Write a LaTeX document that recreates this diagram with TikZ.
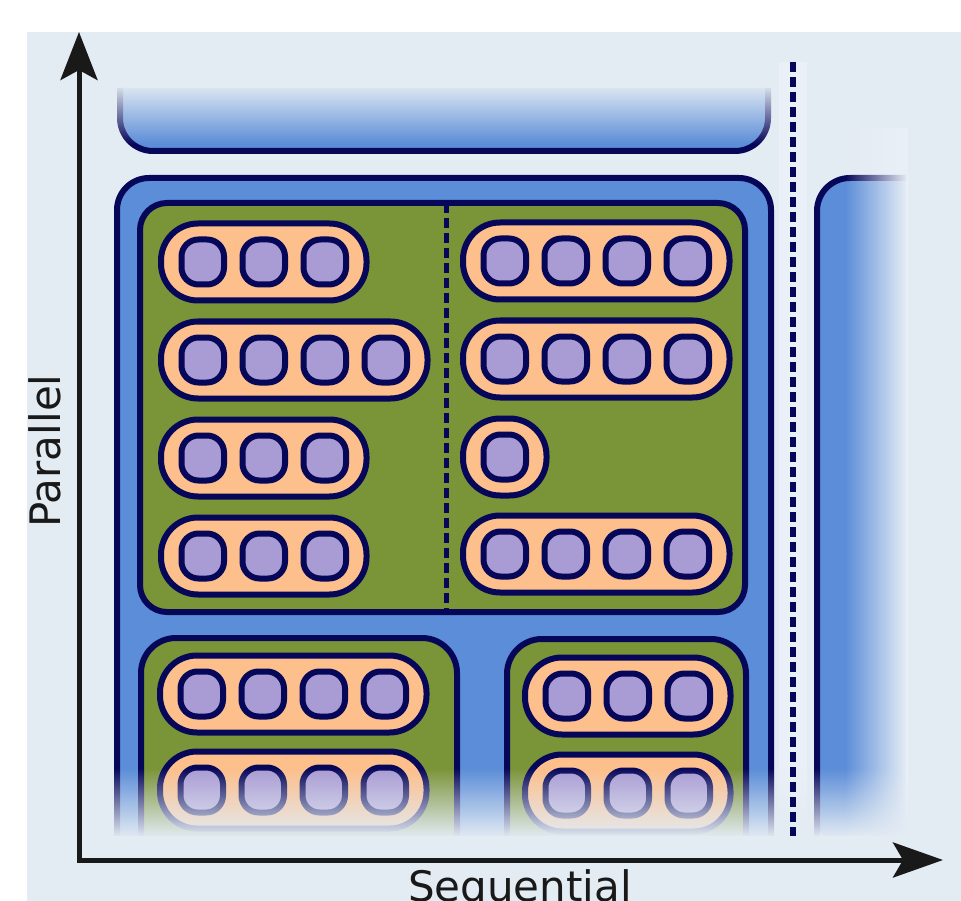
\documentclass[tikz,border=0pt]{standalone}
\usepackage{fontspec}
\newfontfamily\labelfont{DejaVu Sans}
\usetikzlibrary{arrows.meta,fadings}
\definecolor{bgc}{HTML}{E3EBF3}
\definecolor{bglight}{HTML}{EAF0F7}
\definecolor{glowc}{HTML}{EAF0F7}
\definecolor{bluec}{HTML}{5B8DD8}
\definecolor{navy}{HTML}{07075A}
\definecolor{greenc}{HTML}{7A9438}
\definecolor{peach}{HTML}{FDBF8B}
\definecolor{lav}{HTML}{A99BD3}
\tikzfading[name=fadetobottom, top color=transparent!100, bottom color=transparent!0]
\tikzfading[name=fadetotop, top color=transparent!0, bottom color=transparent!100]
\tikzfading[name=fadetoright, left color=transparent!100, right color=transparent!0]
\newcommand\pillrow[3]{%
  \pgfmathsetmacro\pillR{#1+41+48.5+61*(#3-1)-3}%
  \draw[pillbox] (#1+3,#2-38.5) rectangle (\pillR,#2+38.5);
  \foreach \k in {1,...,#3}{%
    \pgfmathsetmacro\cellX{#1+20.5+24.25+61*(\k-1)}%
    \draw[cellbox] (\cellX-21.25,#2-22.5) rectangle (\cellX+21.25,#2+22.5);
  }%
}
\begin{document}
\begin{tikzpicture}[x=1pt,y=-1pt,
  bigbox/.style={draw=navy, line width=6pt},
  pillbox/.style={draw=navy, fill=peach, line width=6pt, rounded corners=37pt},
  cellbox/.style={draw=navy, fill=lav, line width=6pt, rounded corners=17pt},
  dashline/.style={draw=navy, line width=5.5pt, dash pattern=on 10pt off 5pt},
  axisline/.style={draw=black!90, line width=5pt, line join=miter},
  labelstyle/.style={font=\labelfont\fontsize{42}{50}\selectfont, text=black!90, inner sep=0pt}]
\useasboundingbox (0,0) rectangle (961,901);
\fill[white] (0,0) rectangle (961,901);
\begin{scope}
\clip (27,32) rectangle (961,901);
\fill[bgc] (27,32) rectangle (961,901);
% glow strip behind the separator
\fill[glowc] (779,62) rectangle (807,840);
% top bar
\filldraw[bigbox, fill=bluec, rounded corners=33pt] (120,88) -- (120,151) -- (768,151) -- (768,88);
\fill[bgc, path fading=fadetotop] (108,84) rectangle (780,144);
% main blue box
\filldraw[bigbox, fill=bluec, rounded corners=32pt] (117,850) -- (117,178) -- (771,178) -- (771,850);
% right box
\fill[bluec, rounded corners=33pt] (817,178) rectangle (880,850);
\fill[bluec] (850,178) rectangle (906,850);
\draw[bigbox, rounded corners=33pt] (906,178) -- (817,178) -- (817,850);
% upper green box
\filldraw[bigbox, fill=greenc, rounded corners=27pt] (140,203) rectangle (745,612);
\draw[dashline, line width=5pt] (446,203) -- (446,612);
% lower green boxes
\filldraw[bigbox, fill=greenc, rounded corners=35pt] (141,850) -- (141,638) -- (457,638) -- (457,850);
\filldraw[bigbox, fill=greenc, rounded corners=35pt] (507,850) -- (507,639) -- (746,639) -- (746,850);
% pills, upper left
\pillrow{158}{262}{3}
\pillrow{158}{360}{4}
\pillrow{158}{458}{3}
\pillrow{158}{556}{3}
% pills, upper right
\pillrow{460}{261}{4}
\pillrow{460}{359}{4}
\pillrow{460}{457}{1}
\pillrow{460}{554}{4}
% pills, lower
\pillrow{157}{694}{4}
\pillrow{157}{790}{4}
\pillrow{522}{696}{3}
\pillrow{522}{793}{3}
% fades
\fill[bglight, path fading=fadetoright] (845,128) rectangle (908,838);
\fill[bgc, path fading=fadetobottom] (100,768) rectangle (912,837);
\fill[bgc] (100,836) rectangle (912,853);
% separator
\draw[dashline] (793,62) -- (793,836);
% axes
\coordinate (origin) at (79,860);
\coordinate (ytip) at (79,32);
\coordinate (xtip) at (943,860);
\draw[axisline, {Stealth[length=48pt,width=37pt,inset=10pt]}-{Stealth[length=50pt,width=35pt,inset=10pt]}] (ytip) -- (origin) -- (xtip);
\node[labelstyle, rotate=90, anchor=base] (par) at (60,451) {Parallel};
\node[labelstyle, anchor=base] (seq) at (520,901) {Sequential};
\end{scope}
\end{tikzpicture}
\end{document}
